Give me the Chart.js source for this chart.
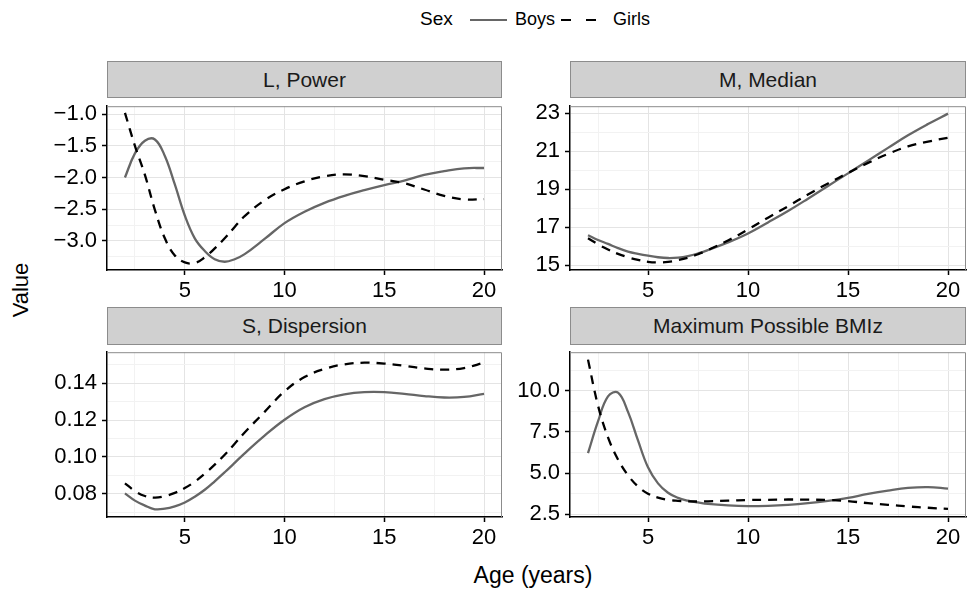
<!DOCTYPE html>
<html><head><meta charset="utf-8">
<script src="https://cdn.jsdelivr.net/npm/chart.js@4/dist/chart.umd.min.js"></script>
<style>
body{margin:0;background:#fff;width:968px;height:593px;overflow:hidden;position:relative;font-family:"Liberation Sans",Arial,sans-serif;color:#000}
canvas{position:absolute}
.strip{position:absolute;box-sizing:border-box;background:#d0d0d0;border:1px solid #8c8c8c;text-align:center;font-size:21px;line-height:35px;color:#1a1a1a;white-space:nowrap}
.lbl{position:absolute;white-space:nowrap;color:#000}
</style></head><body>
<div class="lbl" style="left:420px;top:8px;font-size:19px;">Sex</div>
<div style="position:absolute;left:470px;top:19px;width:37px;height:0;border-top:2.3px solid #666"></div>
<div class="lbl" style="left:515px;top:9px;font-size:18px;">Boys</div>
<div style="position:absolute;left:561px;top:19px;width:10px;height:0;border-top:2.5px solid #000"></div>
<div style="position:absolute;left:586px;top:19px;width:10px;height:0;border-top:2.5px solid #000"></div>
<div class="lbl" style="left:613px;top:9px;font-size:18px;">Girls</div>
<div class="lbl" style="left:-10px;top:277px;width:62px;text-align:center;font-size:22px;transform:rotate(-90deg);">Value</div>
<div class="lbl" style="left:433px;top:562px;width:200px;text-align:center;font-size:23px;">Age (years)</div>
<script>
// ---- data ----
const ages = [2,2.5,3,3.5,4,4.5,5,5.5,6,6.5,7,7.5,8,9,10,11,12,13,14,15,16,17,18,19,20];
const L_boys  = [-2.0,-1.62,-1.42,-1.40,-1.66,-2.11,-2.6,-2.96,-3.16,-3.29,-3.33,-3.29,-3.21,-2.97,-2.72,-2.54,-2.40,-2.29,-2.2,-2.12,-2.05,-1.96,-1.9,-1.855,-1.85];
const L_girls = [-0.98,-1.5,-1.96,-2.51,-2.96,-3.23,-3.34,-3.35,-3.26,-3.12,-2.96,-2.78,-2.61,-2.36,-2.185,-2.06,-1.98,-1.95,-1.98,-2.035,-2.09,-2.19,-2.29,-2.345,-2.34];
const M_boys  = [16.58,16.33,16.12,15.9,15.72,15.6,15.5,15.42,15.38,15.4,15.48,15.62,15.8,16.2,16.67,17.25,17.85,18.5,19.17,19.83,20.5,21.17,21.83,22.42,22.97];
const M_girls = [16.42,16.1,15.83,15.6,15.42,15.28,15.18,15.15,15.18,15.27,15.4,15.58,15.8,16.3,16.88,17.5,18.1,18.72,19.3,19.85,20.38,20.85,21.25,21.5,21.7];
const S_boys  = [0.0802,0.0763,0.0736,0.0716,0.0719,0.0732,0.0753,0.0784,0.0822,0.0868,0.0917,0.0968,0.102,0.1116,0.1202,0.127,0.1314,0.134,0.1352,0.1352,0.1343,0.1331,0.1323,0.1326,0.1343];
const S_girls = [0.0857,0.0815,0.0788,0.0779,0.0787,0.0805,0.0831,0.0866,0.0909,0.0958,0.1012,0.1072,0.1133,0.1245,0.1357,0.1434,0.1478,0.1503,0.1512,0.1507,0.1495,0.1481,0.1474,0.1483,0.1512];
const B_boys  = [6.21,8.13,9.65,9.88,8.71,6.98,5.35,4.38,3.81,3.5,3.33,3.22,3.13,3.04,3.0,3.02,3.08,3.18,3.32,3.5,3.74,3.94,4.1,4.15,4.06];
const B_girls = [11.88,9.1,7.17,5.83,4.87,4.19,3.75,3.52,3.38,3.32,3.29,3.28,3.29,3.33,3.37,3.38,3.4,3.39,3.37,3.3,3.18,3.08,2.98,2.9,2.83];

const xMajor = [5,10,15,20];
const xMinor = [2.5,7.5,12.5,17.5];
const L_ticks = [-3.0,-2.5,-2.0,-1.5,-1.0];
const L_minor = [-3.25,-2.75,-2.25,-1.75,-1.25];
const M_ticks = [15,17,19,21,23];
const M_minor = [16,18,20,22];
const S_ticks = [0.08,0.10,0.12,0.14];
const S_minor = [0.07,0.09,0.11,0.13,0.15];
const B_ticks = [2.5,5.0,7.5,10.0];
const B_minor = [3.75,6.25,8.75,11.25];

// ---- layout ----
const FONT = '"Liberation Sans", Arial, sans-serif';
const panels = [
  {title:'L, Power', box:{l:107,t:97.5,r:502,b:270}, y:[-3.46,-0.875], major:L_ticks, minor:L_minor, dec:1, boys:L_boys, girls:L_girls},
  {title:'M, Median', box:{l:570,t:97.5,r:966,b:270}, y:[14.75,23.36], major:M_ticks, minor:M_minor, dec:0, boys:M_boys, girls:M_girls},
  {title:'S, Dispersion', box:{l:107,t:344,r:502,b:517}, y:[0.0674,0.1569], major:S_ticks, minor:S_minor, dec:2, boys:S_boys, girls:S_girls},
  {title:'Maximum Possible BMIz', box:{l:570,t:344,r:966,b:517}, y:[2.34,12.33], major:B_ticks, minor:B_minor, dec:1, boys:B_boys, girls:B_girls}
];

const frame = {
  id:'frame',
  afterDatasetsDraw(chart){
    const a = chart.chartArea, c = chart.ctx;
    c.save();
    c.strokeStyle = '#8c8c8c'; c.lineWidth = 1;
    c.beginPath();
    c.moveTo(a.left, a.top + 0.5); c.lineTo(a.right - 0.5, a.top + 0.5); c.lineTo(a.right - 0.5, a.bottom);
    c.stroke();
    c.restore();
  }
};

function fmt(v, dec){ return v.toFixed(dec).replace('-', '\u2212'); }

panels.forEach(p => {
  const b = p.box;
  const YW = 107;
  const left = b.l - YW, top = b.t - 10;
  const right = Math.min(968, b.r + 6);
  const W = right - left, H = (b.b + 40) - top;
  const padTop = b.t - top, padRight = right - b.r;
  const xH = H - padTop - (b.b - b.t);

  const s = document.createElement('div');
  s.className = 'strip';
  s.style.left = b.l + 'px'; s.style.width = (b.r - b.l) + 'px';
  s.style.top = (b.t - 37) + 'px'; s.style.height = '37.5px';
  s.textContent = p.title;
  document.body.appendChild(s);

  const cv = document.createElement('canvas');
  cv.width = W; cv.height = H;
  cv.style.left = left + 'px'; cv.style.top = top + 'px';
  cv.style.width = W + 'px'; cv.style.height = H + 'px';
  document.body.appendChild(cv);

  const yAll = p.major.concat(p.minor).sort((a, c) => a - c);
  const xAll = xMajor.concat(xMinor).sort((a, c) => a - c);
  const ymaj = new Set(p.major), xmaj = new Set(xMajor);

  new Chart(cv, {
    type: 'line',
    data: { datasets: [
      { label:'Girls', order:0, data: ages.map((a, i) => ({x:a, y:p.girls[i]})), borderColor:'#000', borderWidth:2.3, borderDash:[9,7], pointRadius:0, tension:0.4, fill:false },
      { label:'Boys', order:1, data: ages.map((a, i) => ({x:a, y:p.boys[i]})), borderColor:'#666666', borderWidth:2.3, pointRadius:0, tension:0.4, fill:false }
    ]},
    options: {
      responsive:false, animation:false, devicePixelRatio:1,
      layout:{ padding:{ left:0, top:padTop, right:padRight, bottom:0 } },
      plugins:{ legend:{display:false}, tooltip:{enabled:false}, title:{display:false} },
      scales: {
        x: {
          type:'linear', min:1.1, max:20.9,
          afterBuildTicks: sc => { sc.ticks = xAll.map(v => ({value:v})); },
          afterFit: sc => { sc.height = xH; },
          ticks:{ autoSkip:false, maxRotation:0, padding:3, color:'#000', font:{size:22, family:FONT},
                  callback: v => xmaj.has(v) ? String(v) : '' },
          grid:{ color: c => (c.tick && xmaj.has(c.tick.value)) ? '#e4e4e4' : '#f2f2f2', lineWidth:1,
                 tickLength:5, tickWidth:1.5, tickColor: c => (c.tick && xmaj.has(c.tick.value)) ? '#000' : 'rgba(0,0,0,0)' },
          border:{ display:true, color:'#000', width:1.5 }
        },
        y: {
          type:'linear', min:p.y[0], max:p.y[1],
          afterBuildTicks: sc => { sc.ticks = yAll.map(v => ({value:v})); },
          afterFit: sc => { sc.width = YW; },
          ticks:{ autoSkip:false, padding:5, color:'#000', font:{size:22, family:FONT},
                  callback: v => ymaj.has(v) ? fmt(v, p.dec) : '' },
          grid:{ color: c => (c.tick && ymaj.has(c.tick.value)) ? '#e4e4e4' : '#f2f2f2', lineWidth:1,
                 tickLength:5, tickWidth:1.5, tickColor: c => (c.tick && ymaj.has(c.tick.value)) ? '#000' : 'rgba(0,0,0,0)' },
          border:{ display:true, color:'#000', width:1.5 }
        }
      }
    },
    plugins:[frame]
  });
});
</script>
</body></html>
